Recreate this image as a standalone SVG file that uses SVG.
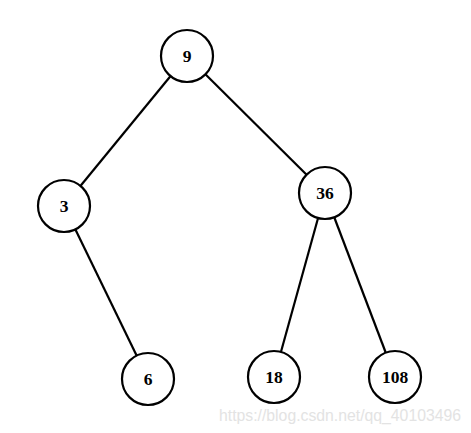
<svg xmlns="http://www.w3.org/2000/svg" width="471" height="433" viewBox="0 0 471 433">
<style>
.n circle{fill:#fff;stroke:#000;stroke-width:2.2}
.n text{font-family:"Liberation Serif",serif;font-weight:bold;font-size:17.5px;text-anchor:middle;dominant-baseline:central;fill:#000}
#edges line{stroke:#000;stroke-width:2.2}
.wm{font-family:"Liberation Sans",sans-serif;font-size:16px;fill:#e3e3e3}
</style>
<rect width="471" height="433" fill="#fff"/>
<g id="edges">
<line x1="187" y1="56" x2="64" y2="206"/>
<line x1="187" y1="56" x2="325" y2="193"/>
<line x1="64" y1="206" x2="148" y2="379"/>
<line x1="325" y1="193" x2="274" y2="377"/>
<line x1="325" y1="193" x2="395" y2="377"/>
</g>
<g id="n9" class="n"><circle cx="187" cy="56" r="26"/><text x="187" y="56">9</text></g>
<g id="n3" class="n"><circle cx="64" cy="206" r="26"/><text x="64" y="206">3</text></g>
<g id="n36" class="n"><circle cx="325" cy="193" r="26"/><text x="325" y="193">36</text></g>
<g id="n6" class="n"><circle cx="148" cy="379" r="26"/><text x="148" y="379">6</text></g>
<g id="n18" class="n"><circle cx="274" cy="377" r="26"/><text x="274" y="377">18</text></g>
<g id="n108" class="n"><circle cx="395" cy="377" r="26"/><text x="395" y="377">108</text></g>
<text class="wm" x="219" y="421" textLength="242" lengthAdjust="spacingAndGlyphs">https://blog.csdn.net/qq_40103496</text>
</svg>
